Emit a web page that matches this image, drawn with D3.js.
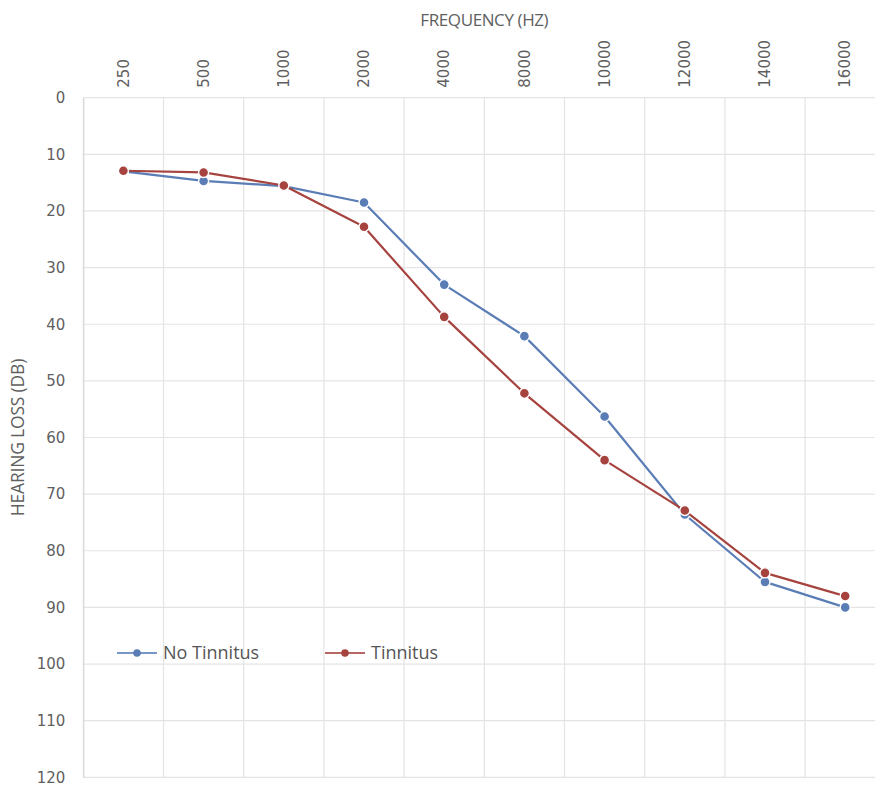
<!DOCTYPE html>
<html>
<head>
<meta charset="utf-8">
<script src="https://cdn.jsdelivr.net/npm/d3@7"></script>
<style>
  html, body { margin: 0; padding: 0; background: #ffffff; }
  svg { display: block; }
</style>
</head>
<body>
<svg id="chart" width="875" height="785"></svg>
<script>
// Frequency bands (Hz) shown along the top axis
const frequencies = ["250", "500", "1000", "2000", "4000", "8000", "10000", "12000", "14000", "16000"];
// Mean hearing loss (dB) per group
const noTinnitus = [13.0, 14.7, 15.6, 18.5, 33.0, 42.1, 56.3, 73.6, 85.5, 90.0];
const tinnitus   = [12.9, 13.2, 15.5, 22.8, 38.7, 52.2, 64.0, 72.9, 83.9, 88.0];
// Hearing-loss ticks on the left axis
const lossTicks = [0, 10, 20, 30, 40, 50, 60, 70, 80, 90, 100, 110, 120];

const series = [
  { name: "No Tinnitus", values: noTinnitus, color: "#5a7db6" },
  { name: "Tinnitus",    values: tinnitus,   color: "#a6433f" }
];

const svg = d3.select("#chart");
const plot = { left: 83.3, right: 885.3, top: 97.7, bottom: 777.3 };
const textColor = "#5f5f5f";
const gridColor = "#e4e4e4";

const x = d3.scaleBand().domain(frequencies).range([plot.left, plot.right]).padding(0);
const y = d3.scaleLinear().domain([0, 120]).range([plot.top, plot.bottom]);

// Gridlines
const grid = svg.append("g");
grid.selectAll("line.h").data(lossTicks).join("line")
  .attr("x1", plot.left).attr("x2", plot.right)
  .attr("y1", d => y(d)).attr("y2", d => y(d))
  .attr("stroke", gridColor).attr("stroke-width", 1.2);
grid.selectAll("line.v").data(frequencies).join("line")
  .attr("x1", d => x(d)).attr("x2", d => x(d))
  .attr("y1", plot.top).attr("y2", plot.bottom)
  .attr("stroke", gridColor).attr("stroke-width", 1.2);

// Left axis (hearing loss, increasing downward)
const yAxis = svg.append("g")
  .attr("transform", `translate(${plot.left},0)`)
  .call(d3.axisLeft(y).tickValues(lossTicks).tickSize(0).tickPadding(18));
yAxis.select(".domain").attr("stroke", "#d9d9d9").attr("stroke-width", 1.2);
yAxis.selectAll("text")
  .attr("fill", textColor)
  .style("font-family", "'DejaVu Sans', sans-serif")
  .style("font-size", "15px");

// Top axis (frequency), labels rotated
const xAxis = svg.append("g")
  .attr("transform", `translate(0,${plot.top})`)
  .call(d3.axisTop(x).tickSize(0).tickPadding(0));
xAxis.select(".domain").remove();
xAxis.selectAll("text")
  .attr("fill", textColor)
  .style("font-family", "'DejaVu Sans', sans-serif")
  .style("font-size", "15px")
  .attr("transform", "rotate(-90)")
  .attr("x", 10)
  .attr("y", 0)
  .attr("dy", "0.35em")
  .attr("text-anchor", "start");

// Axis titles
svg.append("text")
  .attr("x", (plot.left + plot.right) / 2).attr("y", 26)
  .attr("text-anchor", "middle")
  .attr("fill", textColor)
  .style("font-family", "'Open Sans', sans-serif")
  .style("font-size", "17px")
  .style("letter-spacing", "-0.4px")
  .text("FREQUENCY (HZ)");

svg.append("text")
  .attr("transform", `translate(24,${(plot.top + plot.bottom) / 2}) rotate(-90)`)
  .attr("text-anchor", "middle")
  .attr("fill", textColor)
  .style("font-family", "'Open Sans', sans-serif")
  .style("font-size", "17.5px")
  .style("letter-spacing", "-0.2px")
  .text("HEARING LOSS (DB)");

// Series lines and markers
const cx = d => x(d) + x.bandwidth() / 2;
const line = d3.line().x((v, i) => cx(frequencies[i])).y(v => y(v));

series.forEach(s => {
  const g = svg.append("g");
  g.append("path")
    .datum(s.values)
    .attr("d", line)
    .attr("fill", "none")
    .attr("stroke", s.color)
    .attr("stroke-width", 2.2)
    .attr("stroke-linejoin", "round");
  g.selectAll("circle").data(s.values).join("circle")
    .attr("cx", (v, i) => cx(frequencies[i]))
    .attr("cy", v => y(v))
    .attr("r", 5)
    .attr("fill", s.color)
    .attr("stroke", "#ffffff")
    .attr("stroke-width", 1.4);
});

// Legend
const legendItems = [
  { s: series[0], x: 117 },
  { s: series[1], x: 325 }
];
const legendY = 653;
legendItems.forEach(({ s, x: lx }) => {
  const g = svg.append("g");
  g.append("line")
    .attr("x1", lx).attr("x2", lx + 40)
    .attr("y1", legendY).attr("y2", legendY)
    .attr("stroke", s.color).attr("stroke-width", 2).attr("opacity", 0.8);
  g.append("circle")
    .attr("cx", lx + 20).attr("cy", legendY).attr("r", 3.8)
    .attr("fill", s.color);
  g.append("text")
    .attr("x", lx + 46).attr("y", legendY)
    .attr("dy", "0.36em")
    .attr("fill", "#555555")
    .style("font-family", "'Open Sans', sans-serif")
    .style("font-size", "18px")
    .text(s.name);
});
</script>
</body>
</html>
